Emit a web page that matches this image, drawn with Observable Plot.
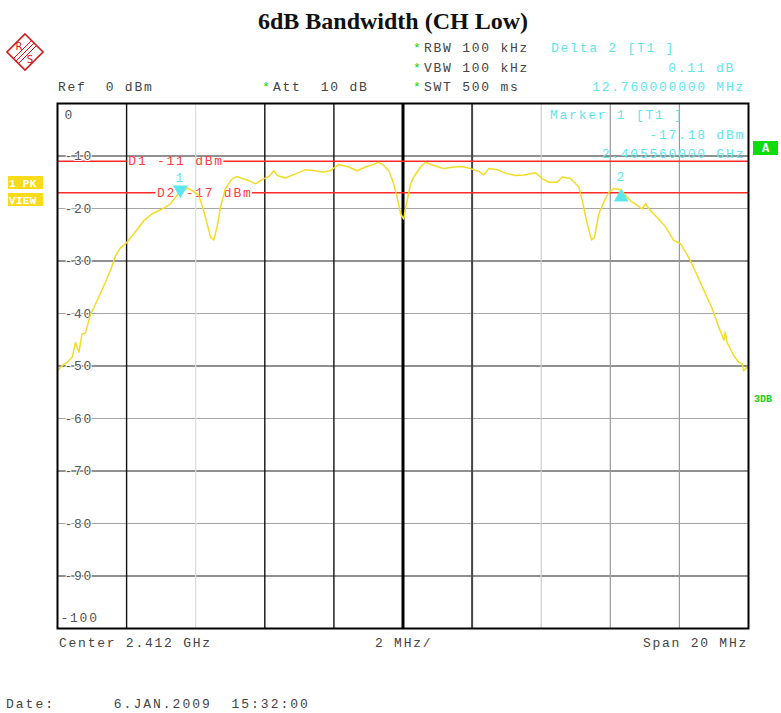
<!DOCTYPE html>
<html><head><meta charset="utf-8">
<script src="https://cdn.jsdelivr.net/npm/d3@7"></script>
<script src="https://cdn.jsdelivr.net/npm/@observablehq/plot@0.6"></script>
<style>
body{margin:0;background:#fff;}
#chart svg{display:block;}
</style></head><body><div id="chart"></div>
<script>
// ---- data ----
const centerGHz = 2.412;
const spanMHz = 20;
const freqOffsetMHz = [-10.0,-9.86,-9.72,-9.57,-9.48,-9.38,-9.29,-9.19,-9.04,-8.95,-8.76,-8.61,-8.47,-8.32,-8.18,-8.03,
  -7.79,-7.50,-7.26,-6.97,-6.73,-6.54,-6.39,-6.25,-6.10,-5.91,-5.77,-5.67,-5.57,-5.48,-5.38,-5.28,-5.14,-4.94,-4.80,
  -4.65,-4.46,-4.27,-4.08,-3.88,-3.74,-3.64,-3.40,-3.11,-2.82,-2.53,-2.34,-2.10,-1.86,-1.57,-1.33,-1.09,-0.85,-0.70,
  -0.56,-0.41,-0.27,-0.17,-0.07,0.02,0.12,0.22,0.31,0.51,0.65,0.89,1.18,1.47,1.71,1.95,2.19,2.34,2.48,2.73,2.97,3.26,
  3.50,3.84,4.03,4.22,4.46,4.61,4.85,5.09,5.19,5.33,5.46,5.54,5.67,5.81,5.96,6.10,6.30,6.44,6.58,6.78,6.92,7.02,7.16,
  7.36,7.60,7.84,8.03,8.27,8.47,8.71,8.95,9.14,9.29,9.33,9.38,9.57,9.72,9.82,9.86,9.96,10.0];
const levelDbm = [-50.9,-49.9,-49.3,-48.3,-45.5,-47.4,-43.9,-43.7,-40.1,-38.9,-36.2,-34.0,-31.8,-29.0,-27.5,-26.7,
  -24.8,-22.3,-21.0,-20.1,-19.1,-17.5,-16.6,-16.1,-16.6,-17.5,-20.4,-22.9,-25.5,-26.0,-23.5,-19.7,-16.2,-14.3,-13.9,
  -14.3,-14.7,-15.3,-14.5,-13.9,-12.8,-13.7,-14.2,-13.4,-12.6,-12.8,-13.1,-12.8,-11.6,-12.1,-12.8,-12.1,-11.6,-11.2,
  -11.8,-12.8,-15.3,-17.8,-21.0,-22.0,-18.5,-15.3,-14.0,-12.1,-11.2,-11.8,-12.4,-12.1,-12.0,-12.4,-12.9,-13.6,-12.4,-12.6,-13.3,-13.7,
  -13.6,-13.2,-14.3,-15.0,-15.0,-14.0,-14.3,-15.9,-18.5,-22.9,-26.0,-25.5,-21.0,-18.8,-16.9,-16.2,-16.4,-17.5,-18.5,-19.4,-20.1,-19.1,-20.4,
  -21.7,-23.5,-26.1,-26.7,-29.3,-32.1,-35.6,-39.1,-42.6,-45.1,-43.5,-45.5,-48.0,-49.3,-49.6,-50.9,-50.2,-50.5];
const yTicks = [0,-10,-20,-30,-40,-50,-60,-70,-80,-90,-100];
const displayLineNames = ["D1","D2"];
const displayLineLevels = [-11,-17];
const displayLabelAtMHz = [-7.95, -7.12];
const markerNames = ["1","2"];
const markerFreqOffsetMHz = [-6.444, 6.316];   // 2.405560000 GHz and +12.76 MHz
const markerLevels = [-17.18, -17.07];

const trace = freqOffsetMHz.map((f,i)=>({f, level: levelDbm[i]}));
const dlines = displayLineNames.map((n,i)=>({name:n, level:displayLineLevels[i], at: displayLabelAtMHz[i], label:`${n} ${displayLineLevels[i]} dBm`}));
const markers = markerNames.map((n,i)=>({name:n, f:markerFreqOffsetMHz[i], level:markerLevels[i]}));

// ---- style ----
const MONO = "Liberation Mono, DejaVu Sans Mono, monospace";
const CYAN = "#5ee6ee";
const RED = "#ff2a2a";
const YEL = "#f3dc27";
const FS = 13, LSPX = 1.75;
const LS = LSPX + "px";
const txtStyle = {fontFamily: MONO, fontSize: FS + "px"};
// display-line segments leave a gap where their label is written
const mhzPerPx = spanMHz / 691;
const labelWidthMHz = d => d.label.length * (FS * 0.6 + LSPX) * mhzPerPx;
const dSegments = dlines.flatMap(d => [
  {level: d.level, x1: -spanMHz/2, x2: d.at - 0.03},
  {level: d.level, x1: d.at + labelWidthMHz(d), x2: spanMHz/2}
]);

const plot = Plot.plot({
  width: 781, height: 713,
  marginLeft: 57, marginRight: 33, marginTop: 103, marginBottom: 85,
  x: {domain: [-spanMHz/2, spanMHz/2], axis: null},
  y: {domain: [-100, 0], axis: null},
  style: {background: "#fff"},
  marks: [
    // horizontal grid
    Plot.ruleY([-20,-40,-60,-80], {stroke: "#a6a6a6", strokeWidth: 1.2}),
    Plot.ruleY([-10,-30,-50,-70,-90], {stroke: "#222", strokeWidth: 1.2}),
    // vertical grid
    Plot.ruleX([-8,-4,-2], {stroke: "#111", strokeWidth: 1.4}),
    Plot.ruleX([-6], {stroke: "#dcdcdc", strokeWidth: 1.2}),
    Plot.ruleX([2], {stroke: "#444", strokeWidth: 2}),
    Plot.ruleX([4], {stroke: "#cfcfcf", strokeWidth: 1.2}),
    Plot.ruleX([6,8], {stroke: "#9a9a9a", strokeWidth: 1.2}),
    Plot.ruleX([0], {stroke: "#000", strokeWidth: 3}),
    // display lines and labels
    Plot.ruleY(dSegments, {y: "level", x1: "x1", x2: "x2", stroke: RED, strokeWidth: 1.4}),
    Plot.text(dlines, {x: "at", y: "level", text: "label", textAnchor: "start", fill: "#ff4040", ...txtStyle}),
    // y tick labels
    Plot.text(yTicks.filter(d => d !== 0 && d !== -100), {x: -10, y: d => d, text: d => String(d), textAnchor: "start",
      dx: 7, fill: "#555", stroke: "#fff", strokeWidth: 2, ...txtStyle}),
    Plot.text([0], {x: -10, y: d => d, text: d => String(d), textAnchor: "start", dx: 7, dy: 11, fill: "#555", ...txtStyle}),
    Plot.text([-100], {x: -10, y: d => d, text: d => String(d), textAnchor: "start", dx: 3, dy: -11, fill: "#555", ...txtStyle}),
    // trace
    Plot.line(trace, {x: "f", y: "level", stroke: YEL, strokeWidth: 1.5}),
    // markers
    Plot.dot(markers.filter(d => d.name === "1"), {x: "f", y: "level", symbol: "triangle", r: 5.5, fill: CYAN, stroke: "none", rotate: 180, dy: -4}),
    Plot.dot(markers.filter(d => d.name === "2"), {x: "f", y: "level", symbol: "triangle", r: 5.5, fill: CYAN, stroke: "none", dy: 4}),
    Plot.text(markers, {x: "f", y: "level", text: "name", dy: -16, fill: CYAN, ...txtStyle}),
    Plot.frame({stroke: "#000", strokeWidth: 2})
  ]
});
document.getElementById("chart").appendChild(plot);

const svg = d3.select(plot);
// monospaced instrument look: widen letter spacing of plot texts
svg.selectAll("text").style("letter-spacing", LS);

function addText(x, y, s, o = {}) {
  svg.append("text").attr("x", x).attr("y", y)
    .attr("text-anchor", o.anchor || "start")
    .attr("fill", o.fill || "#444")
    .attr("font-family", o.family || MONO)
    .attr("font-size", o.size || FS)
    .attr("font-weight", o.weight || "normal")
    .style("letter-spacing", o.ls != null ? o.ls + "px" : LS)
    .style("white-space", "pre")
    .text(s);
}
// title
addText(393, 29, "6dB Bandwidth (CH Low)", {anchor: "middle", family: "Liberation Serif, Times New Roman, serif", size: 24, weight: "bold", fill: "#111", ls: 0});
// R&S logo
const logo = svg.append("g").attr("fill", "none").attr("stroke", "#d01818").attr("stroke-width", 1.6);
logo.append("polygon").attr("points", "25,34 43,52 25,70 7,52");
for (const k of [-2.5, 0, 2.5]) {
  logo.append("line").attr("x1", 16 + k).attr("y1", 61 + k).attr("x2", 34 + k).attr("y2", 43 + k).attr("stroke-width", 1);
}
svg.append("text").attr("x", 19).attr("y", 50).attr("text-anchor", "middle").attr("fill", "#d01818")
  .attr("font-family", "DejaVu Sans, sans-serif").attr("font-size", 10).text("R");
svg.append("text").attr("x", 30).attr("y", 63).attr("text-anchor", "middle").attr("fill", "#d01818")
  .attr("font-family", "DejaVu Sans, sans-serif").attr("font-size", 10).text("S");

// header settings
addText(58, 91, "Ref  0 dBm");
addText(262, 91, "*", {fill: "#18d018", ls: 0});
addText(273, 91, "Att  10 dB");
[["RBW 100 kHz", 52], ["VBW 100 kHz", 72], ["SWT 500 ms", 91]].forEach(([s, y]) => {
  addText(413, y, "*", {fill: "#18d018", ls: 0});
  addText(424, y, s);
});
addText(551, 52, "Delta 2 [T1 ]", {fill: CYAN});
addText(735, 72, "0.11 dB", {fill: CYAN, anchor: "end"});
addText(745, 91, "12.760000000 MHz", {fill: CYAN, anchor: "end"});
// marker readout inside
addText(550, 119, "Marker 1 [T1 ]", {fill: CYAN});
addText(745, 139, "-17.18 dBm", {fill: CYAN, anchor: "end"});
addText(745, 158, "2.405560000 GHz", {fill: CYAN, anchor: "end"});
// A box
svg.append("rect").attr("x", 753).attr("y", 141).attr("width", 25).attr("height", 14).attr("fill", "#0fdc0f");
addText(765.5, 152, "A", {anchor: "middle", fill: "#fff", weight: "bold", size: 12, ls: 0});
// 1 PK / VIEW
svg.append("rect").attr("x", 8).attr("y", 176).attr("width", 35).attr("height", 13).attr("fill", "#f8dc1c");
svg.append("rect").attr("x", 8).attr("y", 193).attr("width", 35).attr("height", 13).attr("fill", "#f8dc1c");
addText(9, 187, "1 PK", {fill: "#fff", weight: "bold", size: 11, ls: 0.3});
addText(9, 204, "VIEW", {fill: "#fff", weight: "bold", size: 11, ls: 0.3});
addText(754, 402, "3DB", {fill: "#18d018", weight: "bold", size: 10, ls: 0});
// bottom
addText(59, 647, "Center 2.412 GHz");
addText(375, 647, "2 MHz/");
addText(748, 647, "Span 20 MHz", {anchor: "end"});
addText(6, 708, "Date:      6.JAN.2009  15:32:00", {ls: 2});
</script></body></html>
